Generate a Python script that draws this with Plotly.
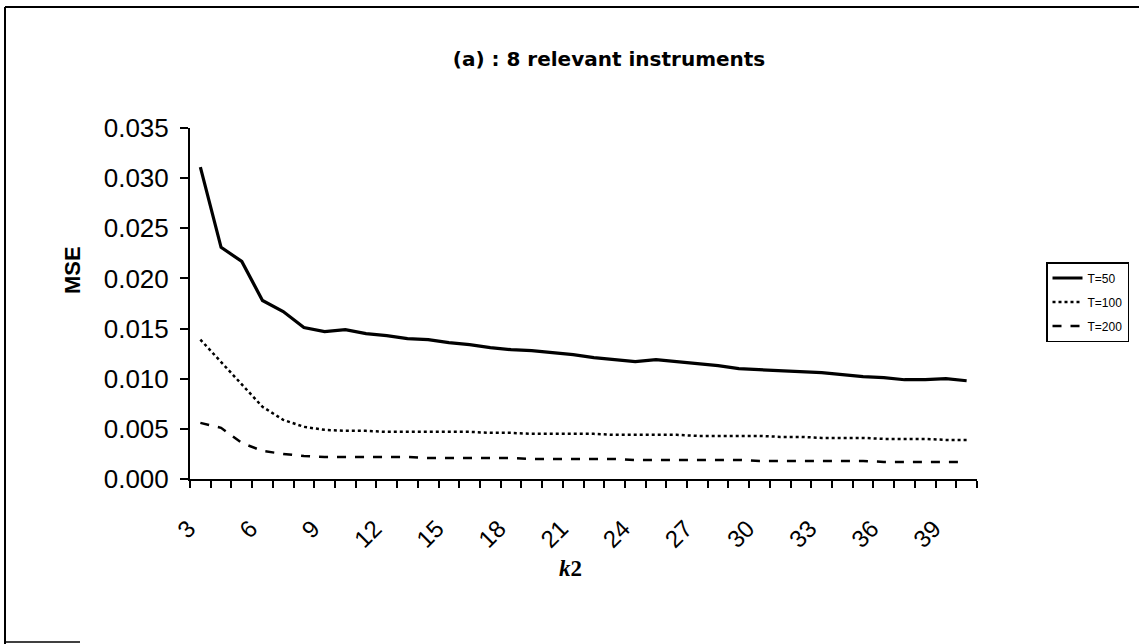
import plotly.graph_objects as go

k2 = list(range(3, 41))

mse_t50 = [0.0311, 0.0231, 0.0217, 0.0178, 0.0167, 0.0151, 0.0147, 0.0149, 0.0145, 0.0143,
           0.0140, 0.0139, 0.0136, 0.0134, 0.0131, 0.0129, 0.0128, 0.0126, 0.0124, 0.0121,
           0.0119, 0.0117, 0.0119, 0.0117, 0.0115, 0.0113, 0.0110, 0.0109, 0.0108, 0.0107,
           0.0106, 0.0104, 0.0102, 0.0101, 0.0099, 0.0099, 0.0100, 0.0098]
mse_t100 = [0.0139, 0.0117, 0.0095, 0.0072, 0.0059, 0.0052, 0.0049, 0.0048, 0.0048, 0.0047,
            0.0047, 0.0047, 0.0047, 0.0047, 0.0046, 0.0046, 0.0045, 0.0045, 0.0045, 0.0045,
            0.0044, 0.0044, 0.0044, 0.0044, 0.0043, 0.0043, 0.0043, 0.0043, 0.0042, 0.0042,
            0.0041, 0.0041, 0.0041, 0.0040, 0.0040, 0.0040, 0.0039, 0.0039]
mse_t200 = [0.0056, 0.0051, 0.0036, 0.0028, 0.0025, 0.0023, 0.0022, 0.0022, 0.0022, 0.0022,
            0.0022, 0.0021, 0.0021, 0.0021, 0.0021, 0.0021, 0.0020, 0.0020, 0.0020, 0.0020,
            0.0020, 0.0019, 0.0019, 0.0019, 0.0019, 0.0019, 0.0019, 0.0018, 0.0018, 0.0018,
            0.0018, 0.0018, 0.0018, 0.0017, 0.0017, 0.0017, 0.0017, 0.0017]

x_labels = [str(k) for k in k2 if (k - 3) % 3 == 0]
x_label_vals = [k for k in k2 if (k - 3) % 3 == 0]
y_ticks = [0.000, 0.005, 0.010, 0.015, 0.020, 0.025, 0.030, 0.035]
y_tick_text = ["%.3f" % v for v in y_ticks]

series_names = ["T=50", "T=100", "T=200"]

fig = go.Figure()
fig.add_trace(go.Scatter(x=k2, y=mse_t50, mode="lines", name=series_names[0], legendgroup="a",
                         line=dict(color="black", width=3.2)))
fig.add_trace(go.Scatter(x=k2, y=mse_t100, mode="lines", name=series_names[1], legendgroup="b",
                         line=dict(color="black", width=2.5, dash="dot")))
fig.add_trace(go.Scatter(x=k2, y=mse_t200, mode="lines", name=series_names[2], legendgroup="c",
                         line=dict(color="black", width=2.5, dash="dash")))

boundaries = [k - 0.5 for k in k2] + [k2[-1] + 0.5]

W, H = 1139, 644
L, R, T, B = 190, 162, 128, 165
pw, ph = W - L - R, H - T - B


def px(x):
    return (x - L) / pw


def py(y):
    return (H - B - y) / ph


fig.update_layout(
    width=W, height=H,
    margin=dict(l=L, r=R, t=T, b=B, autoexpand=False),
    paper_bgcolor="white", plot_bgcolor="white",
    font=dict(family="Liberation Sans, Arial, sans-serif", color="black"),
    title=dict(text="<b>(a) : 8 relevant instruments</b>", xref="container", x=609 / W,
               xanchor="center", yref="container", y=1 - 59 / H, yanchor="middle",
               font=dict(family="DejaVu Sans, sans-serif", size=20, color="black")),
    xaxis=dict(range=[k2[0] - 0.5, k2[-1] + 0.5], tickmode="array", tickvals=x_label_vals,
               ticktext=x_labels, tickangle=-45, ticks="", showgrid=False, zeroline=False,
               showline=True, linecolor="black", linewidth=2,
               tickfont=dict(size=24, family="Liberation Sans, Arial, sans-serif"),
               ticklabelstandoff=24, ticklabelshift=-12,
               minor=dict(tickmode="array", tickvals=boundaries, ticks="outside", ticklen=7,
                          tickwidth=1.5, tickcolor="black", showgrid=False)),
    yaxis=dict(range=[0, 0.035], tickmode="array", tickvals=y_ticks, ticktext=y_tick_text,
               ticks="outside", ticklen=8, tickwidth=1.5, tickcolor="black",
               showgrid=False, zeroline=False, showline=True, linecolor="black", linewidth=2,
               tickfont=dict(size=26, family="Liberation Sans, Arial, sans-serif"),
               ticklabelstandoff=6),
    legend=dict(x=px(1046), y=py(262), xanchor="left", yanchor="top",
                bordercolor="black", borderwidth=1.5, bgcolor="white",
                font=dict(size=12, family="Liberation Sans, Arial, sans-serif"),
                itemwidth=30, tracegroupgap=5),
    showlegend=True,
)

fig.add_annotation(text="<b>MSE</b>", xref="paper", yref="paper", x=px(72), y=py(270),
                   textangle=-90, showarrow=False, xanchor="center", yanchor="middle",
                   font=dict(size=22, family="Liberation Sans, Arial, sans-serif"))
fig.add_annotation(text="<b><i>k</i>2</b>", xref="paper", yref="paper", x=px(570), y=py(568),
                   showarrow=False, xanchor="center", yanchor="middle",
                   font=dict(size=23, family="Liberation Serif, serif"))

# outer frame of the figure
fig.add_shape(type="line", xref="paper", yref="paper", x0=px(5), x1=px(W), y0=py(7), y1=py(7),
              line=dict(color="black", width=2))
fig.add_shape(type="line", xref="paper", yref="paper", x0=px(5), x1=px(5), y0=py(7), y1=py(H),
              line=dict(color="black", width=2))
fig.add_shape(type="line", xref="paper", yref="paper", x0=px(5), x1=px(80), y0=py(642), y1=py(642),
              line=dict(color="black", width=1.5))

fig.write_html("out.html")
